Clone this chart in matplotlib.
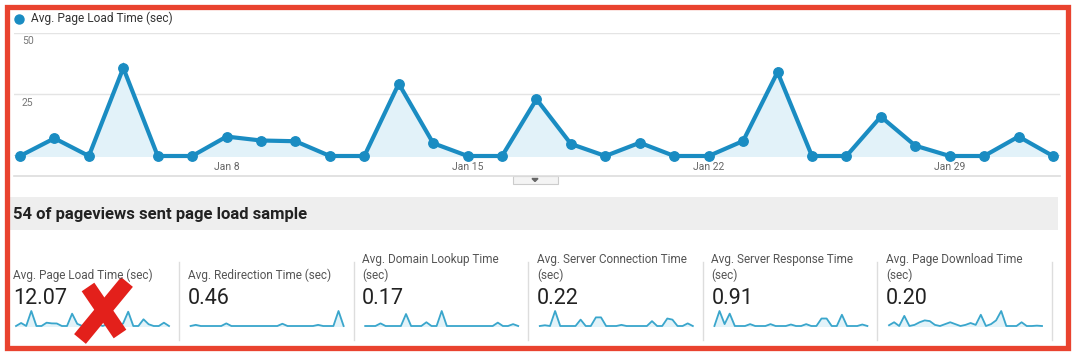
import numpy as np
import matplotlib.pyplot as plt
from matplotlib.lines import Line2D
from matplotlib.patches import Rectangle, Polygon

plt.rcParams["font.family"] = ["Roboto", "DejaVu Sans"]

# ---------------------------------------------------------------
# Data
# ---------------------------------------------------------------
days = list(range(2, 33))  # Jan 2 .. Feb 1
load_time = [0, 7.2, 0, 35.8, 0, 0, 7.9, 6.3, 6.0, 0, 0, 29.4, 5.2, 0, 0,
             23.1, 4.9, 0, 5.4, 0, 0, 6.1, 34.1, 0, 0, 16.0, 4.2, 0, 0, 7.9, 0]
tick_days = [8, 15, 22, 29]
tick_labels = ["Jan 8", "Jan 15", "Jan 22", "Jan 29"]
y_ticks = [25, 50]

metric_titles = [
    "Avg. Page Load Time (sec)",
    "Avg. Redirection Time (sec)",
    "Avg. Domain Lookup Time\n(sec)",
    "Avg. Server Connection Time\n(sec)",
    "Avg. Server Response Time\n(sec)",
    "Avg. Page Download Time\n(sec)",
]
metric_values = ["12.07", "0.46", "0.17", "0.22", "0.91", "0.20"]

# sparkline shapes (relative heights)
spark_redirect = [0, 3, 0, 0, 0, 0, 0, 7, 0, 0, 0, 0, 0, 0, 0, 0,
                  0, 0, 6, 0, 0, 0, 0, 0, 0, 3, 0, 0, 0, 40, 0]
spark_domain = [0, 0, 0, 7, 0, 0, 0, 0, 32, 0, 0, 0, 10, 0, 0, 40,
                0, 0, 0, 0, 0, 0, 0, 0, 0, 0, 9, 0, 0, 5, 0]
spark_connect = [0, 2, 0, 40, 0, 0, 0, 0, 17, 0, 0, 23, 23, 0, 0, 0,
                 3, 0, 0, 0, 0, 0, 13, 0, 0, 20, 17, 0, 0, 7, 0]
spark_response = [0, 40, 5, 33, 0, 0, 0, 5, 0, 0, 0, 5, 0, 0, 0, 4,
                  0, 0, 5, 0, 0, 20, 20, 0, 0, 30, 0, 0, 0, 4, 0]
spark_download = [2, 10, 0, 27, 0, 3, 10, 15, 13, 3, 0, 5, 10, 5, 0, 3,
                  8, 3, 30, 0, 5, 15, 40, 0, 0, 0, 10, 0, 0, 1, 0]
sparks = [load_time, spark_redirect, spark_domain, spark_connect,
          spark_response, spark_download]

# ---------------------------------------------------------------
W, H = 1074, 354
BLUE = "#1a8cc2"
FILL = "#e2f2f9"
SPARK = "#3aa6cc"
RED = "#e9432f"


def px_axes(fig, x0, y0, x1, y1):
    """axes from pixel box (y measured from the top)"""
    return fig.add_axes([x0 / W, 1 - y1 / H, (x1 - x0) / W, (y1 - y0) / H])


def fx(x):
    return x / W


def fy(y):
    return 1 - y / H


fig = plt.figure(figsize=(W / 100, H / 100), dpi=100)
fig.patch.set_facecolor("white")

# --- main line chart ---
ax = px_axes(fig, 14, 33, 1060, 156)
step = (1053 - 20) / 30
ax.set_xlim(days[0] - 6 / step, days[-1] + 7 / step)
ax.set_ylim(0, 50)
for v in y_ticks:
    ax.axhline(v, color="#e4e4e4", lw=1, zorder=0)
    ax.annotate(str(v), xy=(0, v), xycoords=("axes fraction", "data"),
                xytext=(8, -8), textcoords="offset pixels",
                ha="left", va="center", fontsize=7.5, color="#777777")
ax.axhline(0, color="#555555", lw=1, zorder=1)
ax.fill_between(days, load_time, 0, color=FILL, zorder=2)
ax.plot(days, load_time, color=BLUE, lw=3, marker="o", ms=6.8,
        clip_on=False, zorder=3, solid_joinstyle="miter")
ax.set_xticks(tick_days)
ax.set_xticklabels(tick_labels, fontsize=7.5, color="#666666")
ax.set_yticks([])
ax.tick_params(axis="x", length=0, pad=4.5)
for s in ax.spines.values():
    s.set_visible(False)
ax.patch.set_alpha(0)

# legend
fig.add_artist(Line2D([fx(18.5)], [fy(18.5)], transform=fig.transFigure,
                      marker="o", ms=6.5, color=BLUE, lw=0))
fig.text(fx(31), fy(18.5), "Avg. Page Load Time (sec)", fontsize=8.6,
         color="#333333", ha="left", va="center")

# bottom rule of chart + dropdown tab
fig.add_artist(Line2D([fx(14), fx(1060)], [fy(176), fy(176)],
                      transform=fig.transFigure, color="#dddddd", lw=1.2))
fig.add_artist(Rectangle((fx(513), fy(184)), fx(45), 8 / H,
                         transform=fig.transFigure, facecolor="#f4f4f4",
                         edgecolor="#cccccc", lw=0.8))
fig.add_artist(Polygon([[fx(532), fy(178.5)], [fx(538), fy(178.5)],
                        [fx(535), fy(181.5)]], closed=True,
                       transform=fig.transFigure, color="#666666"))

# gray heading band
fig.add_artist(Rectangle((fx(8), fy(230)), fx(1050), 33 / H,
                         transform=fig.transFigure, facecolor="#eeeeee",
                         edgecolor="none"))
fig.text(fx(13), fy(214), "54 of pageviews sent page load sample",
         fontsize=12, fontweight="bold", color="#222222",
         ha="left", va="center")

# metric tiles
col_w = 174.6
for i, (title, val, data) in enumerate(zip(metric_titles, metric_values, sparks)):
    x0 = 13 + i * col_w
    fig.text(fx(x0), fy(279), title, fontsize=8.5, color="#555555",
             ha="left", va="baseline", linespacing=1.2)
    fig.text(fx(x0), fy(298), val, fontsize=15.5, color="#222222",
             ha="left", va="center")
    sax = px_axes(fig, x0 + 3, 311, x0 + 156, 326)
    xs = np.arange(len(data))
    sax.fill_between(xs, data, 0, color="#e3f3f9")
    sax.plot(xs, data, color=SPARK, lw=1.3, clip_on=False)
    sax.set_xlim(0, len(data) - 1)
    sax.set_ylim(0, max(data))
    sax.axis("off")
    # divider
    xd = 179 + i * col_w
    fig.add_artist(Line2D([fx(xd), fx(xd)], [fy(262), fy(340)],
                          transform=fig.transFigure, color="#dddddd", lw=1))

# red cross over first tile
fig.add_artist(Line2D([fx(88), fx(120)], [fy(287), fy(334)],
                      transform=fig.transFigure, color="#e3201b", lw=11,
                      solid_capstyle="butt"))
fig.add_artist(Line2D([fx(127), fx(80)], [fy(282), fy(339)],
                      transform=fig.transFigure, color="#e3201b", lw=11,
                      solid_capstyle="butt"))

# red frame
fig.add_artist(Rectangle((fx(6.5), fy(347.5)), fx(1061), 341 / H,
                         transform=fig.transFigure, facecolor="none",
                         edgecolor=RED, lw=3.8))

fig.savefig("out.png", dpi=100)
